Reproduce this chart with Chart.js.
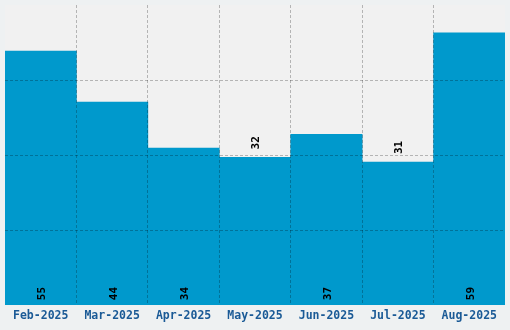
<!DOCTYPE html>
<html>
<head>
<meta charset="utf-8">
<script src="https://cdn.jsdelivr.net/npm/chart.js@4.4.0/dist/chart.umd.min.js"></script>
<style>
  html, body { margin: 0; padding: 0; background: #eef1f2; }
  #wrap { width: 510px; height: 330px; }
</style>
</head>
<body>
<div id="wrap"><canvas id="chart" width="510" height="330"></canvas></div>
<script>
// chart data
const months = ['Feb-2025', 'Mar-2025', 'Apr-2025', 'May-2025', 'Jun-2025', 'Jul-2025', 'Aug-2025'];
const counts = [55, 44, 34, 32, 37, 31, 59];
const yMax = 65;
const yStep = 16.25;

const MONO = "'DejaVu Sans Mono', 'Liberation Mono', monospace";
const GRID = 'rgba(0,0,0,0.25)';
const NONE = 'rgba(0,0,0,0)';

// light grey plot background
const plotBg = {
  id: 'plotBg',
  beforeDraw(chart) {
    const a = chart.chartArea, ctx = chart.ctx;
    ctx.save();
    ctx.fillStyle = '#f1f1f1';
    ctx.fillRect(a.left, a.top, a.right - a.left, a.bottom - a.top);
    ctx.restore();
  }
};

// rotated value labels: inside at the base, or just above short bars
const valueLabels = {
  id: 'valueLabels',
  afterDraw(chart) {
    const ctx = chart.ctx;
    const meta = chart.getDatasetMeta(0);
    const base = chart.scales.y.getPixelForValue(0);
    ctx.save();
    ctx.font = 'bold 11px ' + MONO;
    ctx.fillStyle = '#000';
    ctx.textBaseline = 'middle';
    ctx.textAlign = 'left';
    meta.data.forEach((bar, i) => {
      const v = counts[i];
      const start = v < 33 ? bar.y - 8 : base - 5;
      ctx.save();
      ctx.translate(bar.x + 1.5, start);
      ctx.rotate(-Math.PI / 2);
      ctx.fillText(String(v), 0, 0);
      ctx.restore();
    });
    ctx.restore();
  }
};

new Chart(document.getElementById('chart'), {
  type: 'bar',
  data: {
    labels: months,
    datasets: [{
      data: counts,
      backgroundColor: '#0099cc',
      borderWidth: 0,
      categoryPercentage: 1,
      barPercentage: 1
    }]
  },
  options: {
    responsive: false,
    animation: false,
    layout: { padding: { left: 5, right: 5, top: 5, bottom: 3 } },
    plugins: {
      legend: { display: false },
      tooltip: { enabled: false }
    },
    scales: {
      x: {
        z: 1,
        offset: true,
        border: { display: false, dash: [3, 2] },
        grid: {
          z: 1,
          offset: true,
          drawTicks: false,
          // hide the outer edges, keep only the inner category lines
          color: (c) => (c.type !== 'tick' || c.index === 0 || c.index >= months.length) ? NONE : GRID
        },
        ticks: {
          color: '#1a5a96',
          padding: 4,
          maxRotation: 0,
          font: { family: MONO, size: 11.5, weight: 'bold' }
        }
      },
      y: {
        z: 1,
        min: 0,
        max: yMax,
        border: { display: false, dash: [3, 2] },
        grid: {
          z: 1,
          drawTicks: false,
          color: (c) => (c.type !== 'tick' || c.tick.value === 0 || c.tick.value === yMax) ? NONE : GRID
        },
        ticks: { display: false, stepSize: yStep }
      }
    }
  },
  plugins: [plotBg, valueLabels]
});
</script>
</body>
</html>
